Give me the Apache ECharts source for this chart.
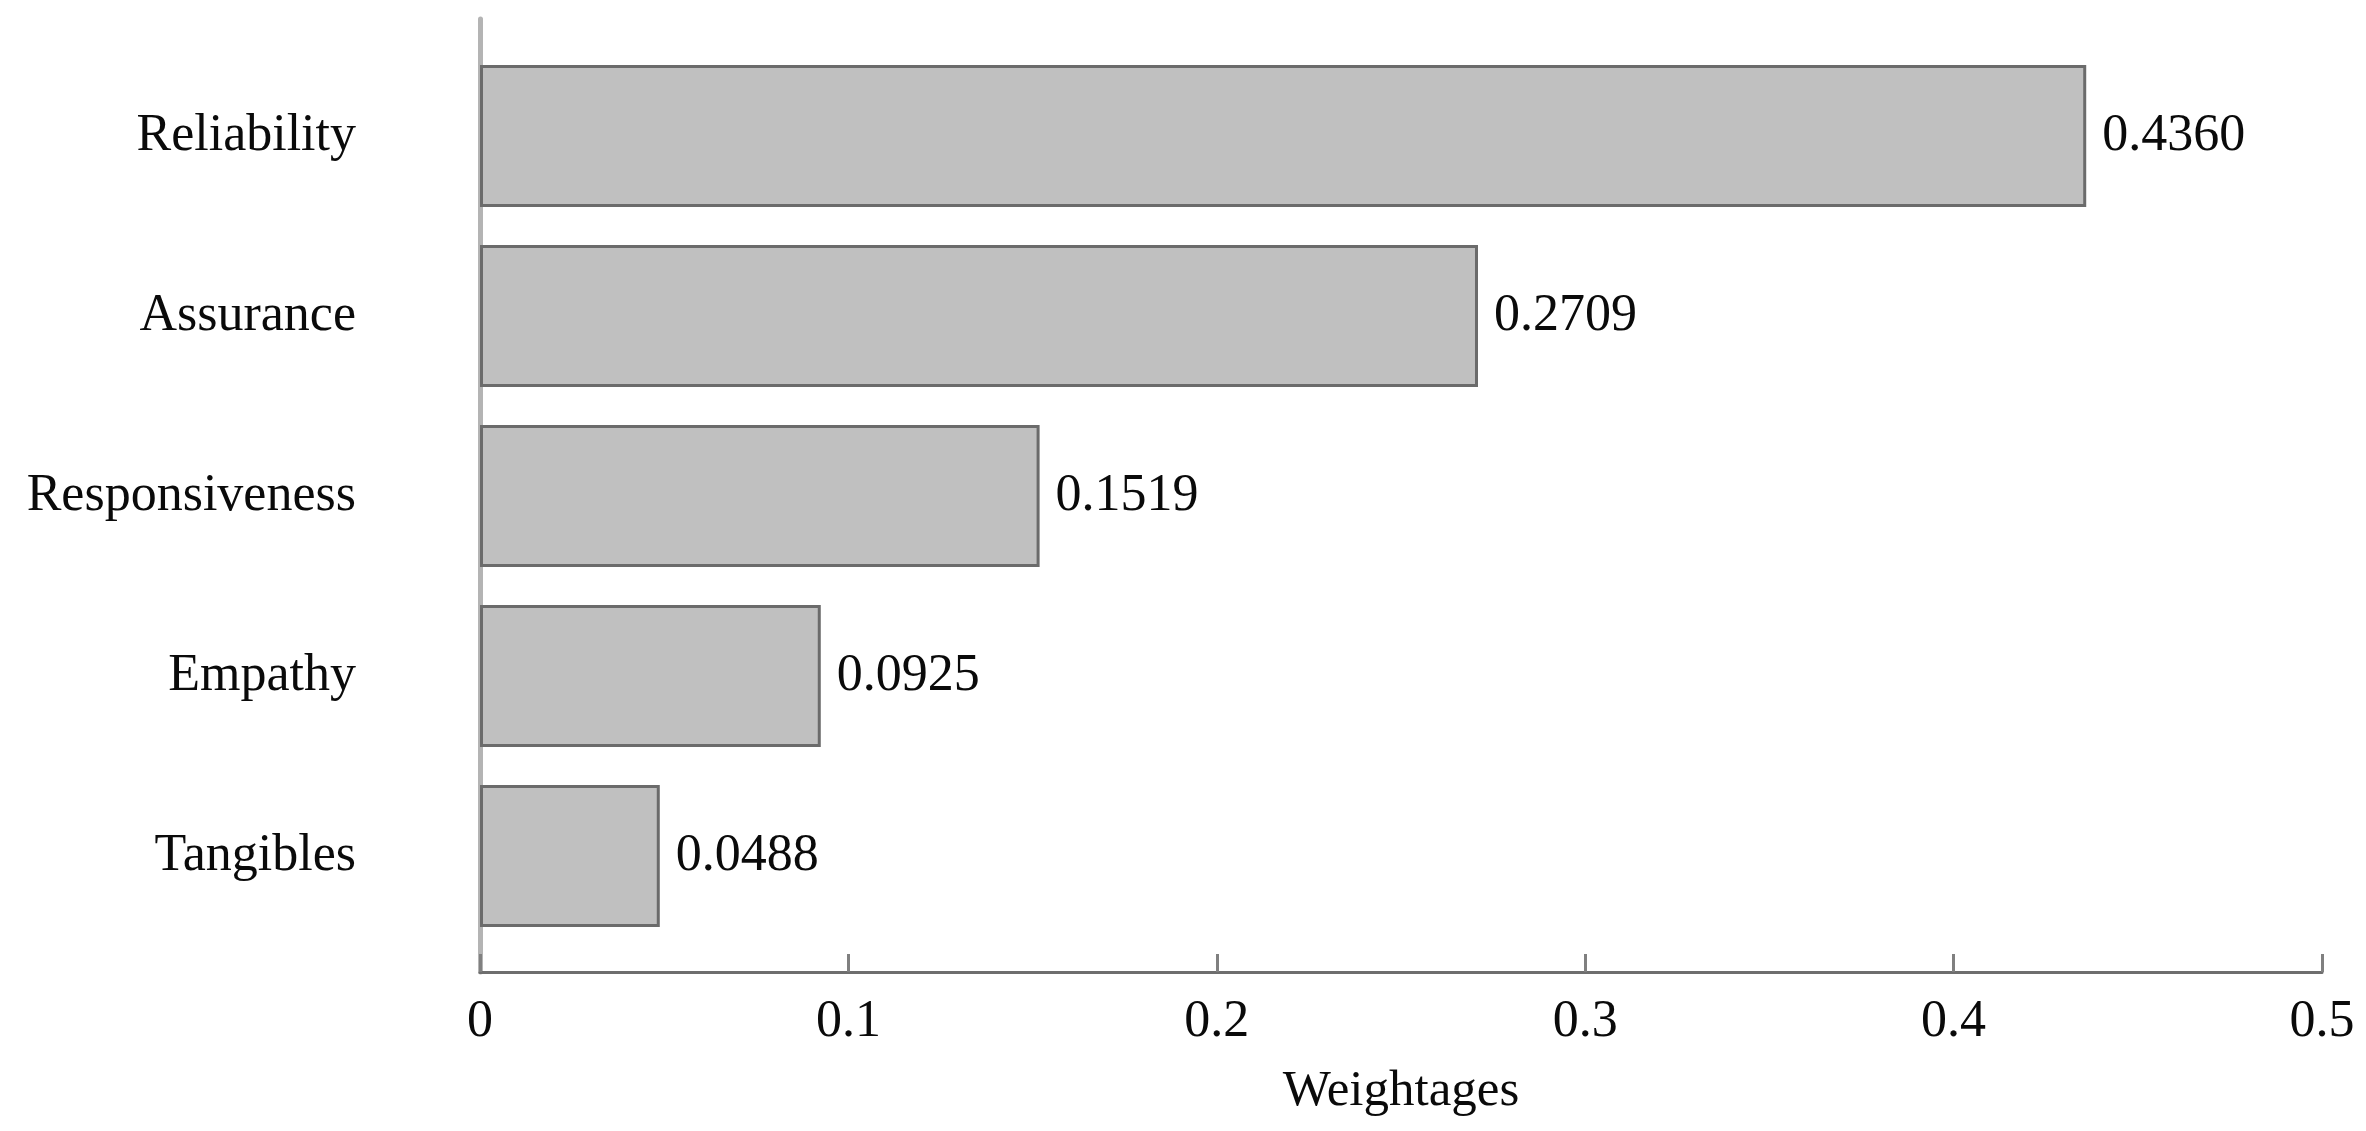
<!DOCTYPE html>
<html>
<head>
<meta charset="utf-8">
<script src="https://cdn.jsdelivr.net/npm/echarts@6/dist/echarts.min.js"></script>
<style>
  html, body { margin: 0; padding: 0; background: #fff; }
  #chart { width: 2366px; height: 1131px; }
</style>
</head>
<body>
<div id="chart"></div>
<script>
// Data (top to bottom)
const categories = ['Reliability', 'Assurance', 'Responsiveness', 'Empathy', 'Tangibles'];
const weightages = [0.4360, 0.2709, 0.1519, 0.0925, 0.0488];
const xTicks = { min: 0, max: 0.5, interval: 0.1 };
const xAxisName = 'Weightages';

const FONT = '"Liberation Serif", "Times New Roman", serif';
const chart = echarts.init(document.getElementById('chart'), null, { renderer: 'canvas' });

chart.setOption({
  backgroundColor: '#ffffff',
  animation: false,
  grid: [
    { left: 480, right: 44, top: 19, bottom: 159 },   // frame grid (axes)
    { left: 480, right: 44, top: 46, bottom: 185 }    // bar grid
  ],
  xAxis: [
    {
      gridIndex: 0,
      type: 'value',
      min: xTicks.min, max: xTicks.max, interval: xTicks.interval,
      name: xAxisName,
      nameLocation: 'middle',
      nameGap: 94,
      nameTextStyle: { fontFamily: FONT, fontSize: 51, color: '#0a0a0a' },
      axisLine: { show: true, lineStyle: { color: '#6e6e6e', width: 3 } },
      axisTick: { show: true, inside: true, length: 18, lineStyle: { color: '#808080', width: 3 } },
      axisLabel: { fontFamily: FONT, fontSize: 52, color: '#0a0a0a', margin: 24 },
      splitLine: { show: false }
    },
    {
      gridIndex: 1,
      type: 'value',
      min: xTicks.min, max: xTicks.max,
      show: false
    }
  ],
  yAxis: [
    {
      gridIndex: 0,
      type: 'value',
      min: 0, max: 1,
      axisLine: { show: true, lineStyle: { color: '#b4b4b4', width: 5 } },
      axisTick: { show: false },
      axisLabel: { show: false },
      splitLine: { show: false }
    },
    {
      gridIndex: 1,
      type: 'category',
      data: categories,
      inverse: true,
      axisLine: { show: false },
      axisTick: { show: false },
      axisLabel: { fontFamily: FONT, fontSize: 52, color: '#0a0a0a', margin: 124 },
      splitLine: { show: false }
    }
  ],
  series: [
    {
      type: 'bar',
      xAxisIndex: 1,
      yAxisIndex: 1,
      data: weightages,
      barCategoryGap: '21%',
      itemStyle: { color: '#c0c0c0', borderColor: '#6b6b6b', borderWidth: 3 },
      label: {
        show: true,
        position: 'right',
        distance: 16,
        fontFamily: FONT,
        fontSize: 52,
        color: '#0a0a0a',
        formatter: p => p.value.toFixed(4)
      }
    }
  ]
});
</script>
</body>
</html>
